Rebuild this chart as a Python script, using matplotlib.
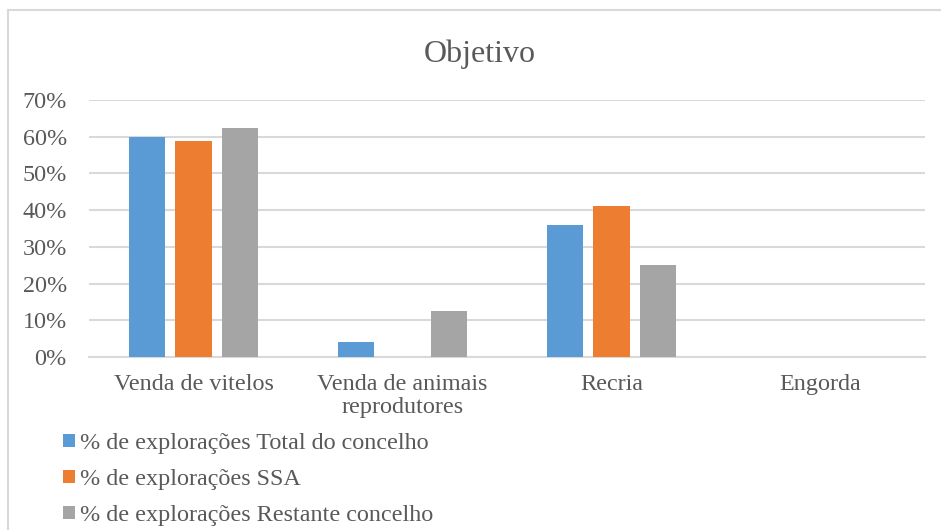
import matplotlib
matplotlib.use('Agg')
import matplotlib.pyplot as plt
import numpy as np
from matplotlib.patches import Patch
from matplotlib.lines import Line2D

plt.rcParams['font.family'] = ['Liberation Serif', 'DejaVu Serif']

# data (percent)
categories = ['Venda de vitelos', 'Venda de animais\nreprodutores', 'Recria', 'Engorda']
total_concelho = [60.0, 4.0, 36.0, 0.0]
ssa = [58.8, 0.0, 41.2, 0.0]
restante_concelho = [62.5, 12.5, 25.0, 0.0]
series_names = ['% de explorações Total do concelho',
                '% de explorações SSA',
                '% de explorações Restante concelho']
colors = ['#5B9BD5', '#ED7D31', '#A5A5A5']

TXT = '#595959'
GRID = '#D9D9D9'
FS = 17.4

fig = plt.figure(figsize=(9.41, 5.30), dpi=100)
ax = fig.add_axes([89/941, 1-357/530, (925-89)/941, (357-100)/530])

x = np.arange(len(categories))
w = 0.174
step = 0.2215
for i, vals in enumerate([total_concelho, ssa, restante_concelho]):
    ax.bar(x + (i-1)*step, vals, width=w, color=colors[i], zorder=3)

ax.set_xlim(-0.5, len(categories)-0.5)
ax.set_ylim(0, 70)
ax.set_yticks(np.arange(0, 71, 10))
ax.set_yticklabels(['%d%%' % v for v in np.arange(0, 71, 10)])
ax.set_xticks(x)
ax.set_xticklabels(categories, linespacing=1.15)
ax.yaxis.grid(True, color=GRID, linewidth=1.5, zorder=0)
ax.set_axisbelow(True)
for s in ['top', 'right', 'left']:
    ax.spines[s].set_visible(False)
ax.spines['bottom'].set_color(GRID)
ax.spines['bottom'].set_linewidth(1.5)
ax.tick_params(axis='both', length=0, labelsize=FS, colors=TXT)
ax.tick_params(axis='y', pad=16)
ax.tick_params(axis='x', pad=12)

fig.text(480/941, 1-62/530, 'Objetivo', ha='center', va='baseline',
         fontsize=23, color=TXT)

handles = [Patch(facecolor=c, edgecolor='none') for c in colors]
leg = fig.legend(handles, series_names, loc='upper left',
                 bbox_to_anchor=(63/941, 1-433/530), frameon=False,
                 fontsize=FS, handlelength=0.5, handleheight=0.5,
                 handletextpad=0.2, labelspacing=0.62, borderpad=0,
                 borderaxespad=0)
for t in leg.get_texts():
    t.set_color(TXT)

# chart area border (left and top visible)
fig.add_artist(Line2D([7.5/941, 7.5/941], [0, 1-10/530], color=GRID, linewidth=1.5))
fig.add_artist(Line2D([7.5/941, 1], [1-10/530, 1-10/530], color=GRID, linewidth=1.5))

fig.savefig('out.png', dpi=100)
